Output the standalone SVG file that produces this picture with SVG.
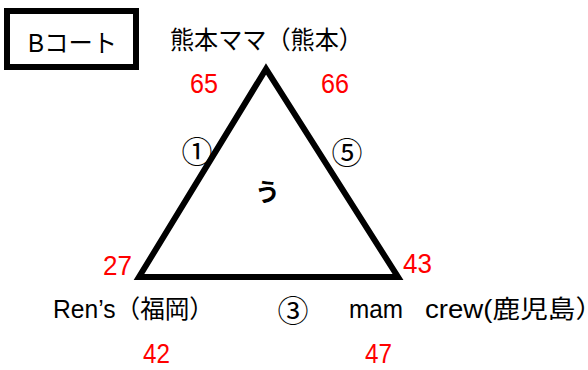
<svg xmlns="http://www.w3.org/2000/svg" width="588" height="370" viewBox="0 0 588 370">
<style>
.t{font-family:"Liberation Sans","Noto Sans CJK JP",sans-serif;font-size:25px;fill:#000}
.c{font-family:"Noto Sans CJK JP","Liberation Sans",sans-serif;font-size:31px;fill:#000;text-anchor:middle}
.r{font-family:"Liberation Sans","Noto Sans CJK JP",sans-serif;font-size:27px;fill:#ff0000}
</style>
<rect width="588" height="370" fill="#fff"/>
<g id="court">
<rect x="7" y="11" width="129" height="56" fill="none" stroke="#000" stroke-width="6"/>
<text class="t" x="28" y="52" font-size="27" textLength="89" lengthAdjust="spacingAndGlyphs">Bコート</text>
</g>
<g id="connectors">
<polygon points="266,69 139,277 398,277" fill="none" stroke="#000" stroke-width="6" stroke-linejoin="miter"/>
</g>
<g id="kumamoto">
<text class="t" x="170" y="49" font-size="26" textLength="193" lengthAdjust="spacingAndGlyphs">熊本ママ（熊本）</text>
<text class="r" x="190" y="93" textLength="28" lengthAdjust="spacingAndGlyphs">65</text>
<text class="r" x="321" y="93" textLength="28" lengthAdjust="spacingAndGlyphs">66</text>
</g>
<g id="fukuoka">
<text class="t" x="53" y="318" font-size="26" textLength="161" lengthAdjust="spacingAndGlyphs">Ren’s（福岡）</text>
<text class="r" x="103" y="275" textLength="29" lengthAdjust="spacingAndGlyphs">27</text>
<text class="r" x="143" y="363" textLength="27" lengthAdjust="spacingAndGlyphs">42</text>
</g>
<g id="kagoshima">
<text class="t" x="349" y="318" textLength="54" lengthAdjust="spacingAndGlyphs">mam</text>
<text class="t" x="425" y="318" font-size="26" textLength="178" lengthAdjust="spacingAndGlyphs">crew(鹿児島）</text>
<text class="r" x="403" y="273" textLength="29" lengthAdjust="spacingAndGlyphs">43</text>
<text class="r" x="365" y="363" textLength="27" lengthAdjust="spacingAndGlyphs">47</text>
</g>
<g id="labels">
<text class="c" x="197" y="163">①</text>
<text class="c" x="347" y="164">⑤</text>
<text class="c" x="293" y="322">③</text>
<text class="t" x="267.5" y="201" text-anchor="middle" font-weight="bold" font-size="30">う</text>
</g>
</svg>
